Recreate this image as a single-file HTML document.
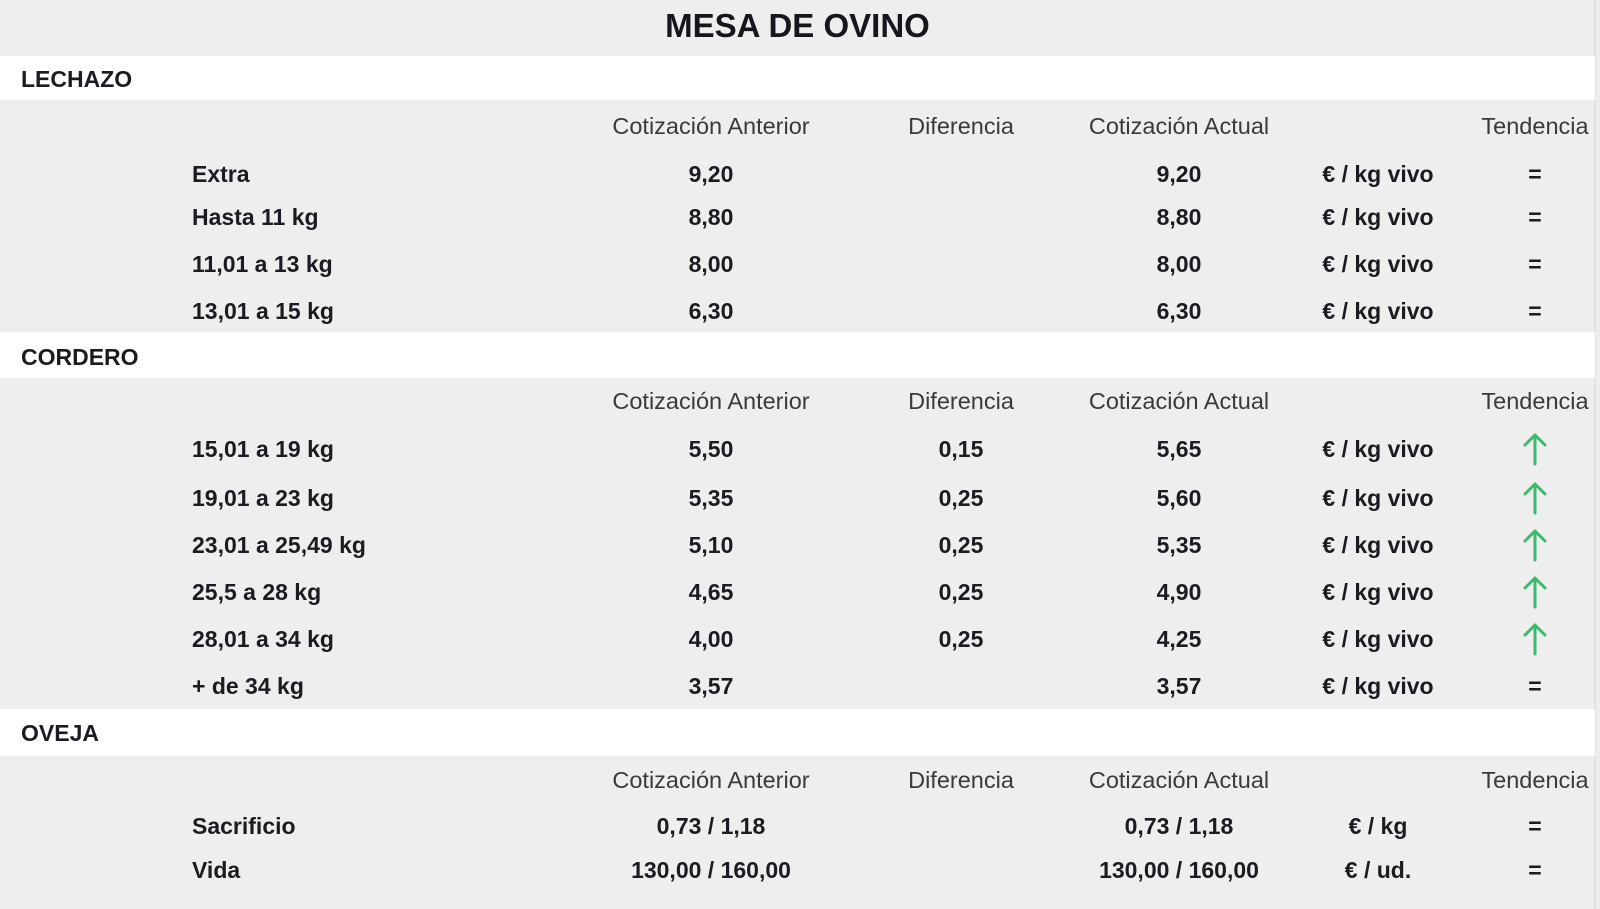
<!DOCTYPE html>
<html><head><meta charset="utf-8"><style>
html,body{margin:0;padding:0;}
body{width:1600px;height:909px;background:#eeeeee;position:relative;overflow:hidden;font-family:"Liberation Sans",Arial,sans-serif;color:#1b1b22;}
.band{position:absolute;left:0;width:1595px;background:#ffffff;}
.edge{position:absolute;left:1594px;top:0;width:2px;height:909px;background:#e2e2e2;}
.t{position:absolute;height:30px;line-height:30px;font-size:23px;font-weight:bold;white-space:nowrap;}
.c{width:400px;margin-left:-200px;text-align:center;}
.h{font-weight:normal;color:#3a3a3a;font-size:23.5px;}
.title{position:absolute;left:0;width:1595px;top:6px;text-align:center;font-size:33px;font-weight:bold;line-height:40px;color:#16161e;}
.sec{left:21px;}
.lab{left:192px;}
svg.ar{position:absolute;width:26px;height:34px;}
</style></head><body>
<div class="edge"></div>
<div class="title">MESA DE OVINO</div>

<div class="band" style="top:56px;height:44px;"></div>
<div class="t sec" style="top:64px;">LECHAZO</div>

<div class="t c h" style="top:111px;left:711px;">Cotización Anterior</div>
<div class="t c h" style="top:111px;left:961px;">Diferencia</div>
<div class="t c h" style="top:111px;left:1179px;">Cotización Actual</div>
<div class="t c h" style="top:111px;left:1535px;">Tendencia</div>

<div class="t lab" style="top:159px;">Extra</div>
<div class="t c" style="top:159px;left:711px;">9,20</div>
<div class="t c" style="top:159px;left:1179px;">9,20</div>
<div class="t c" style="top:159px;left:1378px;">€ / kg vivo</div>
<div class="t c" style="top:159px;left:1535px;">=</div>

<div class="t lab" style="top:202px;">Hasta 11 kg</div>
<div class="t c" style="top:202px;left:711px;">8,80</div>
<div class="t c" style="top:202px;left:1179px;">8,80</div>
<div class="t c" style="top:202px;left:1378px;">€ / kg vivo</div>
<div class="t c" style="top:202px;left:1535px;">=</div>

<div class="t lab" style="top:249px;">11,01 a 13 kg</div>
<div class="t c" style="top:249px;left:711px;">8,00</div>
<div class="t c" style="top:249px;left:1179px;">8,00</div>
<div class="t c" style="top:249px;left:1378px;">€ / kg vivo</div>
<div class="t c" style="top:249px;left:1535px;">=</div>

<div class="t lab" style="top:296px;">13,01 a 15 kg</div>
<div class="t c" style="top:296px;left:711px;">6,30</div>
<div class="t c" style="top:296px;left:1179px;">6,30</div>
<div class="t c" style="top:296px;left:1378px;">€ / kg vivo</div>
<div class="t c" style="top:296px;left:1535px;">=</div>

<div class="band" style="top:332px;height:46px;"></div>
<div class="t sec" style="top:342px;">CORDERO</div>

<div class="t c h" style="top:386px;left:711px;">Cotización Anterior</div>
<div class="t c h" style="top:386px;left:961px;">Diferencia</div>
<div class="t c h" style="top:386px;left:1179px;">Cotización Actual</div>
<div class="t c h" style="top:386px;left:1535px;">Tendencia</div>

<div class="t lab" style="top:434px;">15,01 a 19 kg</div>
<div class="t c" style="top:434px;left:711px;">5,50</div>
<div class="t c" style="top:434px;left:961px;">0,15</div>
<div class="t c" style="top:434px;left:1179px;">5,65</div>
<div class="t c" style="top:434px;left:1378px;">€ / kg vivo</div>

<div class="t lab" style="top:483px;">19,01 a 23 kg</div>
<div class="t c" style="top:483px;left:711px;">5,35</div>
<div class="t c" style="top:483px;left:961px;">0,25</div>
<div class="t c" style="top:483px;left:1179px;">5,60</div>
<div class="t c" style="top:483px;left:1378px;">€ / kg vivo</div>

<div class="t lab" style="top:530px;">23,01 a 25,49 kg</div>
<div class="t c" style="top:530px;left:711px;">5,10</div>
<div class="t c" style="top:530px;left:961px;">0,25</div>
<div class="t c" style="top:530px;left:1179px;">5,35</div>
<div class="t c" style="top:530px;left:1378px;">€ / kg vivo</div>

<div class="t lab" style="top:577px;">25,5 a 28 kg</div>
<div class="t c" style="top:577px;left:711px;">4,65</div>
<div class="t c" style="top:577px;left:961px;">0,25</div>
<div class="t c" style="top:577px;left:1179px;">4,90</div>
<div class="t c" style="top:577px;left:1378px;">€ / kg vivo</div>

<div class="t lab" style="top:624px;">28,01 a 34 kg</div>
<div class="t c" style="top:624px;left:711px;">4,00</div>
<div class="t c" style="top:624px;left:961px;">0,25</div>
<div class="t c" style="top:624px;left:1179px;">4,25</div>
<div class="t c" style="top:624px;left:1378px;">€ / kg vivo</div>

<div class="t lab" style="top:671px;">+ de 34 kg</div>
<div class="t c" style="top:671px;left:711px;">3,57</div>
<div class="t c" style="top:671px;left:1179px;">3,57</div>
<div class="t c" style="top:671px;left:1378px;">€ / kg vivo</div>
<div class="t c" style="top:671px;left:1535px;">=</div>

<svg class="ar" style="left:1522px;top:432px;" viewBox="0 0 26 34"><path d="M13 32 V3 M3 13 L13 3 L23 13" fill="none" stroke="#3cb96a" stroke-width="3" stroke-linecap="round" stroke-linejoin="round"/></svg>
<svg class="ar" style="left:1522px;top:481px;" viewBox="0 0 26 34"><path d="M13 32 V3 M3 13 L13 3 L23 13" fill="none" stroke="#3cb96a" stroke-width="3" stroke-linecap="round" stroke-linejoin="round"/></svg>
<svg class="ar" style="left:1522px;top:528px;" viewBox="0 0 26 34"><path d="M13 32 V3 M3 13 L13 3 L23 13" fill="none" stroke="#3cb96a" stroke-width="3" stroke-linecap="round" stroke-linejoin="round"/></svg>
<svg class="ar" style="left:1522px;top:575px;" viewBox="0 0 26 34"><path d="M13 32 V3 M3 13 L13 3 L23 13" fill="none" stroke="#3cb96a" stroke-width="3" stroke-linecap="round" stroke-linejoin="round"/></svg>
<svg class="ar" style="left:1522px;top:622px;" viewBox="0 0 26 34"><path d="M13 32 V3 M3 13 L13 3 L23 13" fill="none" stroke="#3cb96a" stroke-width="3" stroke-linecap="round" stroke-linejoin="round"/></svg>

<div class="band" style="top:709px;height:47px;"></div>
<div class="t sec" style="top:718px;">OVEJA</div>

<div class="t c h" style="top:765px;left:711px;">Cotización Anterior</div>
<div class="t c h" style="top:765px;left:961px;">Diferencia</div>
<div class="t c h" style="top:765px;left:1179px;">Cotización Actual</div>
<div class="t c h" style="top:765px;left:1535px;">Tendencia</div>

<div class="t lab" style="top:811px;">Sacrificio</div>
<div class="t c" style="top:811px;left:711px;">0,73 / 1,18</div>
<div class="t c" style="top:811px;left:1179px;">0,73 / 1,18</div>
<div class="t c" style="top:811px;left:1378px;">€ / kg</div>
<div class="t c" style="top:811px;left:1535px;">=</div>

<div class="t lab" style="top:855px;">Vida</div>
<div class="t c" style="top:855px;left:711px;">130,00 / 160,00</div>
<div class="t c" style="top:855px;left:1179px;">130,00 / 160,00</div>
<div class="t c" style="top:855px;left:1378px;">€ / ud.</div>
<div class="t c" style="top:855px;left:1535px;">=</div>
</body></html>
